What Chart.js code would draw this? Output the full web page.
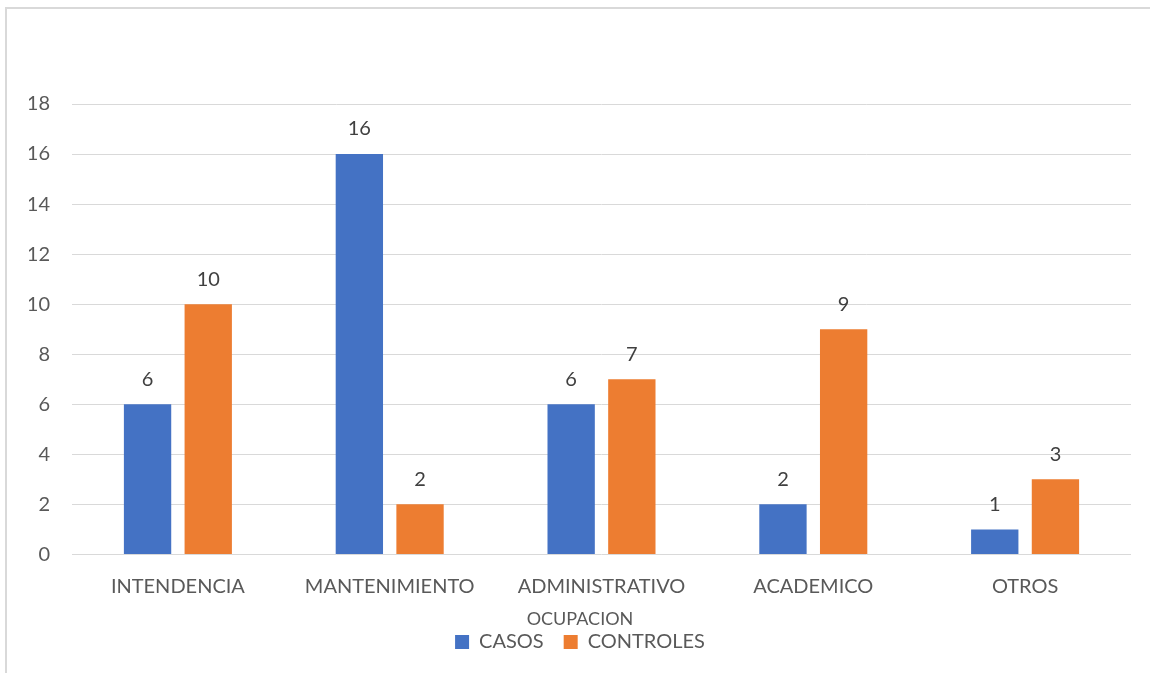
<!DOCTYPE html>
<html>
<head>
<meta charset="utf-8">
<script src="https://cdn.jsdelivr.net/npm/chart.js@4/dist/chart.umd.min.js"></script>
<style>
  html, body { margin: 0; padding: 0; background: #ffffff; }
  #wrap { position: relative; width: 1150px; height: 673px; overflow: hidden; }
  #frame { position: absolute; left: 5px; top: 7px; width: 1300px; height: 800px;
           border: 2px solid #d9d9d9; box-sizing: border-box; }
  #chart { position: absolute; left: 0; top: 0; }
</style>
</head>
<body>
<div id="wrap">
  <div id="frame"></div>
  <canvas id="chart" width="1150" height="673"></canvas>
</div>
<script>
// Occupation groups and counts for cases and controls
const categories = ['INTENDENCIA', 'MANTENIMIENTO', 'ADMINISTRATIVO', 'ACADEMICO', 'OTROS'];
const casos = [6, 16, 6, 2, 1];
const controles = [10, 2, 7, 9, 3];
const yTicks = [0, 2, 4, 6, 8, 10, 12, 14, 16, 18];

const FONT = 'Lato, "Open Sans", sans-serif';
const TEXT = '#595959';

// Writes each bar's value above it
const valueLabels = {
  id: 'valueLabels',
  afterDatasetsDraw(chart) {
    const ctx = chart.ctx;
    ctx.save();
    ctx.font = '20px ' + FONT;
    ctx.fillStyle = '#404040';
    ctx.textAlign = 'center';
    ctx.textBaseline = 'middle';
    chart.data.datasets.forEach((ds, i) => {
      chart.getDatasetMeta(i).data.forEach((bar, j) => {
        ctx.fillText(String(ds.data[j]), bar.x, bar.y - 25);
      });
    });
    ctx.restore();
  }
};

new Chart(document.getElementById('chart'), {
  type: 'bar',
  data: {
    labels: categories,
    datasets: [
      { label: 'CASOS', data: casos, backgroundColor: '#4472C4' },
      { label: 'CONTROLES', data: controles, backgroundColor: '#ED7D31' }
    ]
  },
  options: {
    responsive: false,
    animation: false,
    devicePixelRatio: 1,
    layout: { padding: { left: 29, right: 19, top: 104, bottom: 11 } },
    datasets: { bar: { categoryPercentage: 0.573, barPercentage: 0.78 } },
    scales: {
      x: {
        grid: { display: false, drawTicks: false },
        border: { display: false },
        ticks: { color: TEXT, font: { family: FONT, size: 20 }, padding: 20, maxRotation: 0 },
        afterFit(scale) { scale.height = 56; }
      },
      y: {
        min: 0,
        max: 18,
        afterBuildTicks(scale) { scale.ticks = yTicks.map(v => ({ value: v })); },
        grid: { color: '#d9d9d9', lineWidth: 1, drawTicks: false },
        border: { display: false },
        ticks: { color: TEXT, font: { family: FONT, size: 20 }, padding: 22 },
        afterFit(scale) { scale.width = 43; }
      }
    },
    plugins: {
      tooltip: { enabled: false },
      legend: {
        position: 'bottom',
        title: {
          display: true,
          text: 'OCUPACION',
          color: TEXT,
          font: { family: FONT, size: 18 },
          padding: { top: 0, bottom: -20 }
        },
        labels: {
          color: TEXT,
          font: { family: FONT, size: 20 },
          boxWidth: 14,
          boxHeight: 14,
          padding: 20
        }
      }
    }
  },
  plugins: [valueLabels]
});
</script>
</body>
</html>
